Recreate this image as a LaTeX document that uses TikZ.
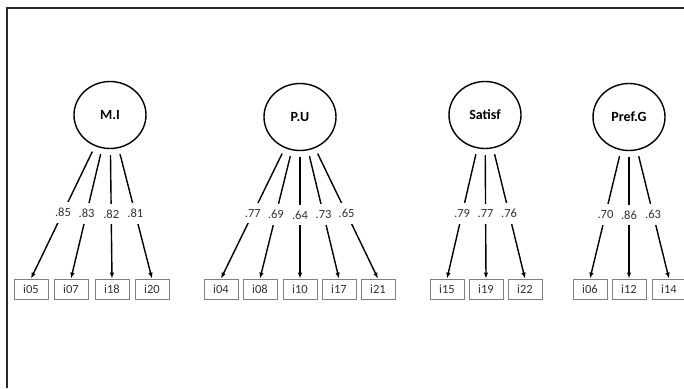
\documentclass[tikz,border=0pt]{standalone}
\usepackage{fontspec}
\setmainfont{Carlito}
\usetikzlibrary{shapes.geometric,arrows.meta}
\definecolor{boxgray}{RGB}{128,128,128}
\definecolor{textgray}{RGB}{50,50,50}
\definecolor{framegray}{RGB}{40,40,40}
\tikzset{
  latent/.style={ellipse,draw=black,line width=1.4pt,minimum width=72pt,minimum height=67pt,inner sep=0pt,font=\fontsize{14}{16}\selectfont\bfseries},
  item/.style={rectangle,draw=boxgray,line width=0.8pt,minimum width=34pt,minimum height=20pt,inner sep=0pt,text=textgray,font=\fontsize{12.5}{14}\selectfont},
  load/.style={-{Latex[length=6pt,width=4.5pt]},line width=1.4pt,shorten <=6pt},
  lbl/.style={fill=white,inner xsep=1.5pt,inner ysep=6pt,text=textgray,font=\fontsize{12.5}{14}\selectfont}
}
\begin{document}
\begin{tikzpicture}[x=1pt,y=-1pt]
\useasboundingbox (0,0) rectangle (684,388);
\draw[framegray,line width=1.5pt] (7,388) -- (7,8) -- (684,8);
% latent variables
\node[latent] (MI) at (110,115) {M.I};
\node[latent] (PU) at (300,117) {P.U};
\node[latent] (SA) at (485,115) {Satisf};
\node[latent] (PG) at (629,117) {Pref.G};
% indicators
\foreach \n/\x in {i05/31,i07/71,i18/112,i20/152,i04/221,i08/260,i10/300,i17/339,i21/378,i15/447,i19/486,i22/525,i06/590,i12/629,i14/669}
  \node[item] (\n) at (\x,289) {\n};
% loadings
\foreach \f/\t/\v in {MI/i05/.85,MI/i07/.83,MI/i18/.82,MI/i20/.81,
  PU/i04/.77,PU/i08/.69,PU/i10/.64,PU/i17/.73,PU/i21/.65,
  SA/i15/.79,SA/i19/.77,SA/i22/.76,
  PG/i06/.70,PG/i12/.86,PG/i14/.63}
  \draw[load] (\f) -- node[lbl,pos=0.5] {\v} (\t.north);
\end{tikzpicture}
\end{document}
